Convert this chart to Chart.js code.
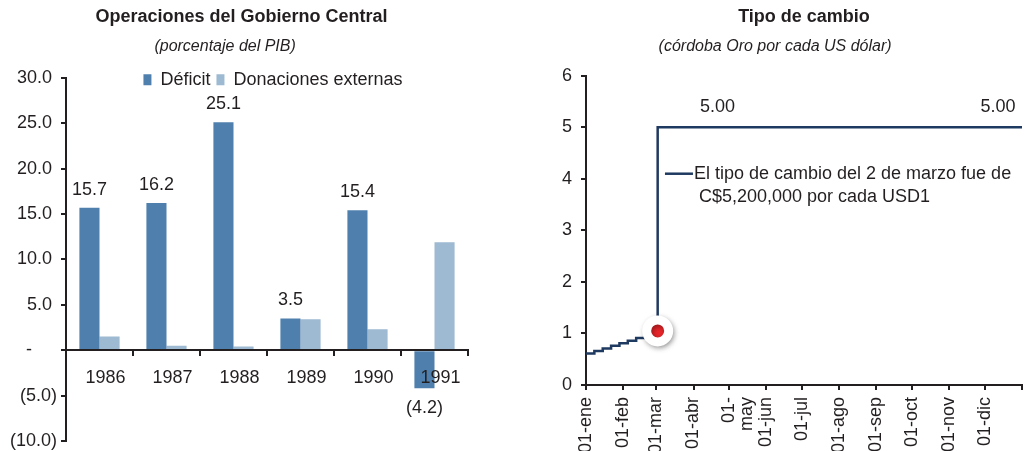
<!DOCTYPE html>
<html><head><meta charset="utf-8">
<script src="https://cdn.jsdelivr.net/npm/chart.js@4.4.1/dist/chart.umd.min.js"></script>
<style>
html,body{margin:0;padding:0;background:#fff;overflow:hidden;width:1026px;height:451px;}
#wrapL{position:absolute;left:0;top:0;width:500px;height:451px;}
#wrapR{position:absolute;left:512px;top:0;width:514px;height:451px;}
</style></head><body>
<div id="wrapL"><canvas id="cL"></canvas></div>
<div id="wrapR"><canvas id="cR"></canvas></div>
<script>
// ---- Left chart data ----
const years = ['1986','1987','1988','1989','1990','1991'];
const deficit = [15.7, 16.2, 25.1, 3.5, 15.4, -4.2];
const donaciones = [1.5, 0.5, 0.4, 3.4, 2.3, 11.9];
const yTicksL = [-10, -5, 0, 5, 10, 15, 20, 25, 30];

// ---- Right chart data ----
const monthDays = [0, 31, 59, 90, 120, 151, 181, 212, 243, 273, 304, 334, 365];
const monthLabels = ['01-ene','01-feb','01-mar','01-abr',['01-','may'],'01-jun','01-jul','01-ago','01-sep','01-oct','01-nov','01-dic',''];
const rateDays = [0, 7, 14, 21, 28, 35, 42, 49, 56, 60, 365];
const rateValues = [0.61, 0.66, 0.71, 0.76, 0.81, 0.86, 0.91, 0.96, 1.00, 5.00, 5.00];
const markDays = [60];
const markValues = [1.05];
const rateLabelDays = [110, 345];
const rateLabelValues = [5.00, 5.00];
const noteLines = ['El tipo de cambio del 2 de marzo fue de', ' C$5,200,000 por cada USD1'];
const noteDay = 66.1, noteValue = 4.1;

const FONT = '"Liberation Sans", Arial, Helvetica, sans-serif';
const TXT = '#231f20';
const AXIS = '#231f20';
const NAVY = '#1f3a60';
Chart.defaults.font.family = FONT;
Chart.defaults.color = TXT;
Chart.defaults.animation = false;

function fmtL(v){
  if (v > 0) return v.toFixed(1) + ' ';
  if (v === 0) return '-\u2007\u2007 ';
  return '(' + Math.abs(v).toFixed(1) + ')';
}

const valueLabels = {
  id: 'valueLabels',
  afterDatasetsDraw(chart){
    const meta = chart.getDatasetMeta(0);
    const ctx = chart.ctx;
    ctx.save();
    ctx.font = '18px ' + FONT;
    ctx.fillStyle = TXT; ctx.textAlign = 'center'; ctx.textBaseline = 'middle';
    meta.data.forEach((bar, i) => {
      const v = deficit[i];
      const txt = v < 0 ? '(' + Math.abs(v).toFixed(1) + ')' : v.toFixed(1);
      const y = v < 0 ? bar.y + 20 : bar.y - 18;
      ctx.fillText(txt, bar.x, y);
    });
    ctx.restore();
  }
};

const legendShift = {
  id: 'legendShift',
  afterLayout(chart){
    const lg = chart.legend;
    if (!lg) return;
    const h = 34;
    lg.top = chart.chartArea.top - 13;
    lg.bottom = lg.top + h;
    lg.height = h;
    lg.left = chart.chartArea.left + 6;
    lg.right = chart.chartArea.right + 6;
  }
};

new Chart(document.getElementById('cL'), {
  type: 'bar',
  data: {
    labels: years,
    datasets: [
      {label: 'Déficit', data: deficit, backgroundColor: '#4f80ad', borderWidth: 0},
      {label: 'Donaciones externas', data: donaciones, backgroundColor: '#9dbad2', borderWidth: 0}
    ]
  },
  options: {
    responsive: true, maintainAspectRatio: false, animation: false,
    layout: {autoPadding: false, padding: {left: 0, right: 32, top: 0, bottom: 10}},
    datasets: {bar: {categoryPercentage: 0.6, barPercentage: 1.0}},
    plugins: {
      title: {display: true, text: '   Operaciones del Gobierno Central', color: TXT,
        font: {size: 18, weight: 'bold'}, padding: {top: 6, bottom: 0}},
      subtitle: {display: true, text: '(porcentaje del PIB)    ', color: TXT,
        font: {size: 16, style: 'italic'}, padding: {top: 9, bottom: 21}},
      legend: {display: true, position: 'top', fullSize: false, maxHeight: 1,
        labels: {boxWidth: 8, boxHeight: 11, padding: 6, font: {size: 18}, color: TXT}},
      tooltip: {enabled: false}
    },
    scales: {
      x: {
        position: {y: 0},
        grid: {offset: true, drawOnChartArea: false, drawTicks: true, tickLength: 5, color: AXIS, lineWidth: 2, z: 1},
        border: {display: true, color: AXIS, width: 2, z: 1},
        ticks: {font: {size: 18}, color: TXT, padding: 12, labelOffset: 6, maxRotation: 0, autoSkip: false, z: 1},
        afterFit(s){ s.paddingLeft = 0; s.paddingRight = 0; }
      },
      y: {
        min: -10, max: 30,
        afterBuildTicks(s){ s.ticks = yTicksL.map(v => ({value: v})); },
        afterFit(s){ s.width = 66; s.paddingTop = 0; s.paddingBottom = 0; },
        grid: {drawOnChartArea: false, tickLength: 5, color: AXIS, lineWidth: 2},
        border: {color: AXIS, width: 2},
        ticks: {font: {size: 18}, color: TXT, padding: 4, callback: v => fmtL(v)}
      }
    }
  },
  plugins: [valueLabels, legendShift]
});

// ---- Right chart ----
const haloShadow = {
  id: 'haloShadow',
  beforeDatasetDraw(chart, args){
    if (args.index === 0){
      const c = chart.ctx; c.save();
      c.shadowColor = 'rgba(0,0,0,0.35)'; c.shadowBlur = 5; c.shadowOffsetX = 1.5; c.shadowOffsetY = 2;
    }
  },
  afterDatasetDraw(chart, args){ if (args.index === 0) chart.ctx.restore(); }
};

const rateNotes = {
  id: 'rateNotes',
  afterDatasetsDraw(chart){
    const {ctx, scales: {x, y}} = chart;
    ctx.save();
    ctx.font = '18px ' + FONT;
    ctx.fillStyle = TXT; ctx.textBaseline = 'middle'; ctx.textAlign = 'center';
    rateLabelDays.forEach((d, i) => {
      ctx.fillText(rateLabelValues[i].toFixed(2), x.getPixelForValue(d), y.getPixelForValue(rateLabelValues[i]) - 20);
    });
    const nx = x.getPixelForValue(noteDay), ny = y.getPixelForValue(noteValue);
    ctx.strokeStyle = NAVY; ctx.lineWidth = 2.5;
    ctx.beginPath(); ctx.moveTo(nx, ny); ctx.lineTo(nx + 28, ny); ctx.stroke();
    ctx.textAlign = 'left';
    ctx.fillText(noteLines[0], nx + 29, ny);
    ctx.fillText(noteLines[1], nx + 29, ny + 23);
    ctx.restore();
  }
};

new Chart(document.getElementById('cR'), {
  type: 'line',
  data: {
    datasets: [
      {label: 'marca', data: markDays.map((d, i) => ({x: d, y: markValues[i]})), showLine: false,
        pointRadius: 11, pointBackgroundColor: '#e8262a', pointBorderColor: '#ffffff', pointBorderWidth: 9, order: 0},
      {label: 'Tipo de cambio', data: rateDays.map((d, i) => ({x: d, y: rateValues[i]})), stepped: true,
        borderColor: NAVY, borderWidth: 2.5, pointRadius: 0, fill: false, order: 1}
    ]
  },
  options: {
    responsive: true, maintainAspectRatio: false, animation: false,
    layout: {autoPadding: false, padding: {left: 0, right: 4, top: 0, bottom: 0}},
    plugins: {
      title: {display: true, text: 'Tipo de cambio', color: TXT, fullSize: false,
        font: {size: 18, weight: 'bold'}, padding: {top: 6, bottom: 0}},
      subtitle: {display: true, text: '(córdoba Oro por cada US dólar)             ', color: TXT, fullSize: false,
        font: {size: 16, style: 'italic'}, padding: {top: 9, bottom: 20}},
      legend: {display: false},
      tooltip: {enabled: false}
    },
    scales: {
      x: {
        type: 'linear', min: 0, max: 365,
        afterBuildTicks(s){ s.ticks = monthDays.map(v => ({value: v})); },
        afterFit(s){ s.height = 66; s.paddingRight = 0; s.paddingLeft = 0; },
        grid: {drawOnChartArea: false, tickLength: 5, color: AXIS, lineWidth: 2},
        border: {color: AXIS, width: 2},
        ticks: {font: {size: 18, lineHeight: 1.0}, color: TXT, padding: 7, minRotation: 90, maxRotation: 90, autoSkip: false,
          callback: (v) => { const i = monthDays.indexOf(v); return i >= 0 ? monthLabels[i] : ''; }}
      },
      y: {
        min: 0, max: 6,
        afterFit(s){ s.width = 74; },
        grid: {drawOnChartArea: false, tickLength: 5, color: AXIS, lineWidth: 2},
        border: {color: AXIS, width: 2},
        ticks: {stepSize: 1, font: {size: 18}, color: TXT, padding: 9, callback: v => String(v)}
      }
    }
  },
  plugins: [haloShadow, rateNotes]
});
</script>
</body></html>
